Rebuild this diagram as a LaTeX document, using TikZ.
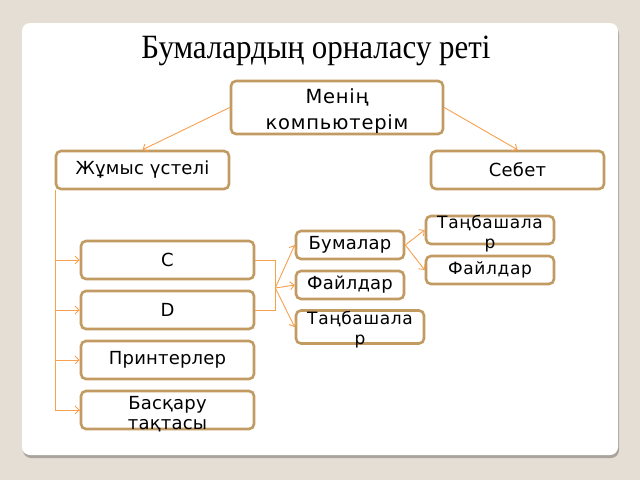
\documentclass[tikz,border=0pt]{standalone}
\usepackage{fontspec}
\setmainfont{Liberation Serif}
\newfontfamily\boxfont[LetterSpace=1]{DejaVu Sans}
\newfontfamily\boxfontw[LetterSpace=4]{DejaVu Sans}
\newcommand{\ovl}[2]{\smash{\raisebox{#1}{\begin{tabular}{@{}c@{}}#2\end{tabular}}}}
\usetikzlibrary{arrows.meta,calc}
\definecolor{bgc}{HTML}{E4DED4}
\definecolor{boxc}{HTML}{C29B62}
\definecolor{conc}{HTML}{F7A04E}
\definecolor{shc}{HTML}{A9A59E}
\begin{document}
\begin{tikzpicture}[x=1pt,y=-1pt,
  bx/.style={draw=boxc, line width=2.6pt, rounded corners=5pt, fill=white,
    font=\boxfont\fontsize{18}{20}\selectfont, inner sep=0pt, text=black},
  wide/.style={bx, minimum width=173pt, minimum height=38pt},
  small/.style={bx, minimum width=108pt, minimum height=28pt},
  mid/.style={bx, minimum width=128pt, minimum height=28pt, font=\boxfontw\fontsize{17}{20}\selectfont},
  conn/.style={draw=conc, line width=0.9pt},
  arr/.style={conn, -{Straight Barb[length=4pt,width=8pt,line width=0.9pt]}}]
\useasboundingbox (0,0) rectangle (640,480);
\fill[bgc] (0,0) rectangle (640,480);
\fill[shc, rounded corners=8pt] (23,26) rectangle (619,458);
\fill[white, rounded corners=8pt] (22,23) rectangle (618,455);
\node[font=\fontsize{34}{34}\selectfont, xscale=0.91] (title) at (316,51) {Бумалардың орналасу реті};
\node[bx, minimum width=212pt, minimum height=53pt, font=\boxfontw\fontsize{19.5}{26}\selectfont] (comp) at (337,107.5) {\ovl{-9pt}{Менің\\компьютерім}};
\node[wide] (zhu) at (142.5,170) {Жұмыс үстелі};
\node[wide] (seb) at (517.5,170) {Себет};
\node[wide] (C) at (167.5,260) {C};
\node[wide] (D) at (167.5,310) {D};
\node[wide] (prn) at (167.5,360) {Принтерлер};
\node[wide] (bas) at (167.5,410) {\ovl{-10pt}{Басқару\\тақтасы}};
\node[small] (bum) at (350,245) {Бумалар};
\node[small] (fay2) at (350,285) {Файлдар};
\node[mid, minimum height=33pt] (tan2) at (360,327) {\ovl{-8pt}{Таңбашала\\р}};
\node[mid] (tan1) at (490,230) {\ovl{-9pt}{Таңбашала\\р}};
\node[mid] (fay1) at (490,270) {Файлдар};
\draw[arr] (comp.west) -- (zhu.north);
\draw[arr] (comp.east) -- (seb.north);
\coordinate (t) at ($(zhu.south west)+(1,0)$);
\draw[conn] (t) |- (bas.west);
\draw[arr] (t |- C.west) -- (C.west);
\draw[arr] (t |- D.west) -- (D.west);
\draw[arr] (t |- prn.west) -- (prn.west);
\draw[arr] (t |- bas.west) -- (bas.west);
\draw[conn] (C.east) -- ++(20,0) coordinate (j1) |- (D.east);
\coordinate (jn) at ($(j1)+(0,28)$);
\draw[arr] (jn) -- (bum.west);
\draw[arr] (jn) -- (fay2.west);
\draw[arr] (jn) -- (tan2.west);
\draw[arr] (bum.east) -- (tan1.west);
\draw[arr] (bum.east) -- (fay1.west);
\end{tikzpicture}
\end{document}
